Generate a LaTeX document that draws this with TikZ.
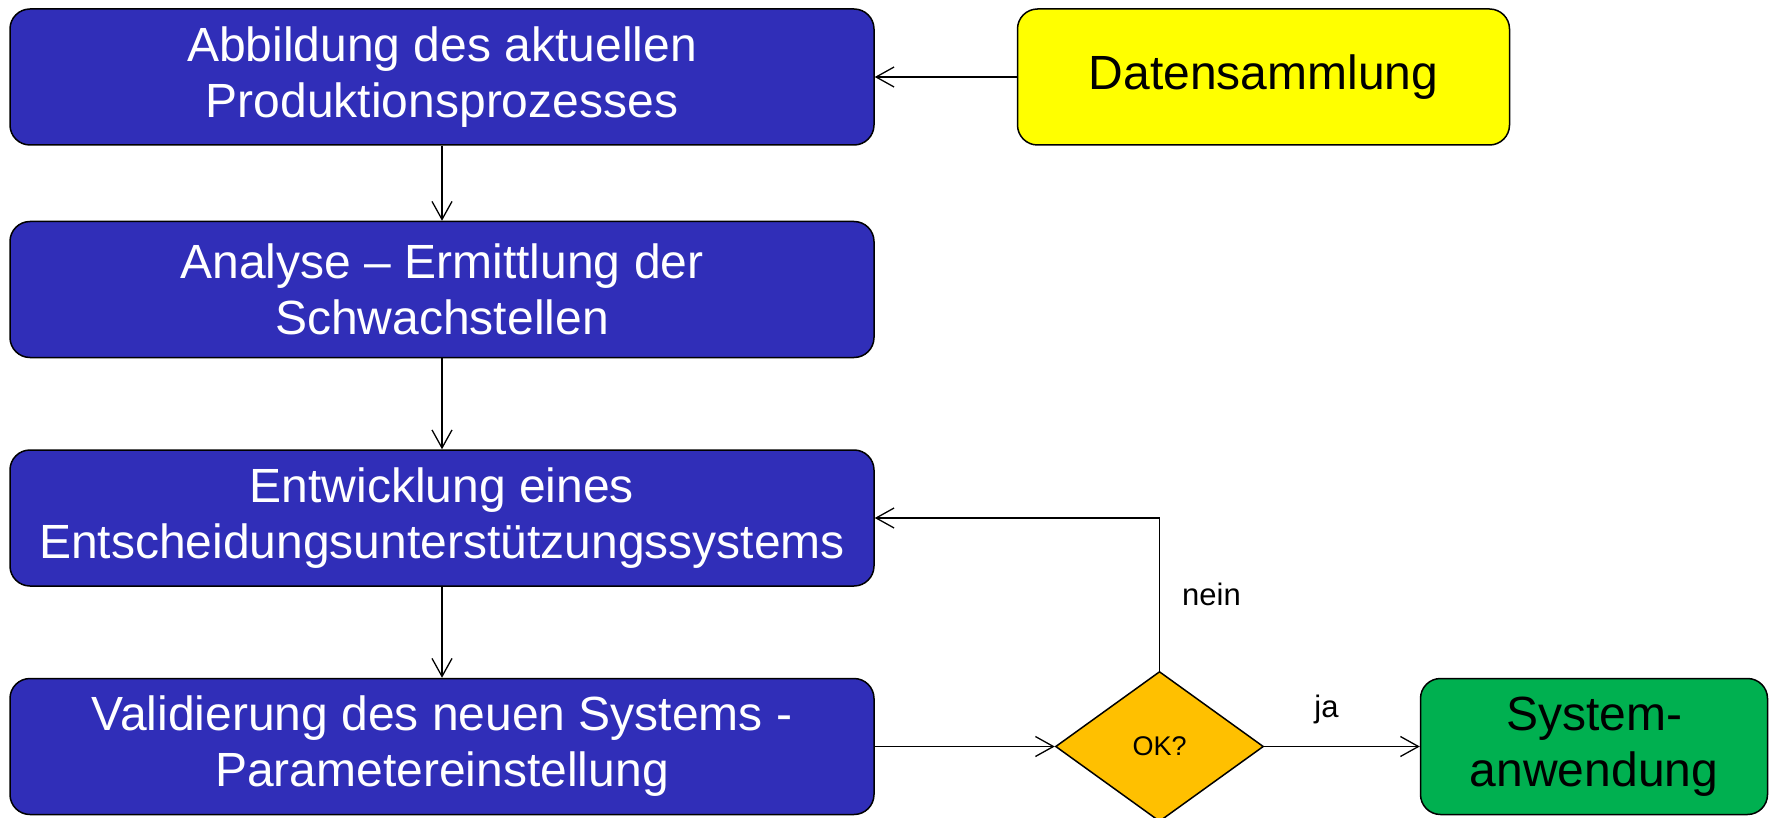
\documentclass[tikz,border=0pt]{standalone}
\usepackage{fontspec}
\setmainfont{Liberation Sans}
\usepackage{tikz}
\usetikzlibrary{positioning}
\usetikzlibrary{shapes.geometric}
\usetikzlibrary{arrows.meta}
\definecolor{prozessblau}{RGB}{48,46,184}
\definecolor{datengelb}{RGB}{255,255,0}
\definecolor{okgelb}{RGB}{255,192,0}
\definecolor{anwgruen}{RGB}{0,176,80}
\tikzset{prozess/.style = {font=\fontsize{24}{28}\selectfont, text=white, fill=prozessblau, draw, line width=0.75pt, rounded corners=10pt, align=center, minimum width=432pt, minimum height=68pt, inner sep=0pt}}
\tikzset{daten/.style = {prozess, text=black, fill=datengelb, minimum width=246pt}}
\tikzset{ergebnis/.style = {prozess, text=black, fill=anwgruen, minimum width=173.5pt}}
\tikzset{frage/.style = {diamond, draw, fill=okgelb, font=\fontsize{13.5}{16}\selectfont, minimum width=104pt, minimum height=75pt, inner sep=0pt, line width=0.75pt}}
\tikzset{pfeil/.style = {-{Straight Barb[length=9pt,width=10pt]}, line width=0.65pt}}
\tikzset{antwort/.style = {font=\fontsize{15.5}{18}\selectfont, inner sep=0pt}}

\begin{document}
\begin{tikzpicture}
\useasboundingbox (0,0) rectangle (885.5pt,-409pt);
\node[prozess] (p1) at (221pt,-38.5pt) {Abbildung des aktuellen\\Produktionsprozesses};
\node[prozess, below = 37.5pt of p1] (p2) {Analyse – Ermittlung der\\Schwachstellen};
\node[prozess, below = 45.5pt of p2] (p3) {Entwicklung eines\\Entscheidungsunterstützungssystems};
\node[prozess, below = 45.5pt of p3] (p4) {Validierung des neuen Systems -\\Parametereinstellung};
\node[daten, right = 71pt of p1] (d) {Datensammlung};
\node[frage, right = 90pt of p4] (ok) {OK?};
\node[ergebnis, right = 77.75pt of ok] (anw) {System-\\anwendung};
\draw[pfeil] (p1) -- (p2);
\draw[pfeil] (p2) -- (p3);
\draw[pfeil] (p3) -- (p4);
\draw[pfeil] (d) -- (p1);
\draw[pfeil] (p4) -- (ok);
\draw[pfeil] (ok) -- node[antwort, pos=0.4, above=11pt] {ja} (anw);
\draw[pfeil] (ok.north) |- node[antwort, pos=0.25, right=11pt] {nein} (p3.east);
\end{tikzpicture}
\end{document}
